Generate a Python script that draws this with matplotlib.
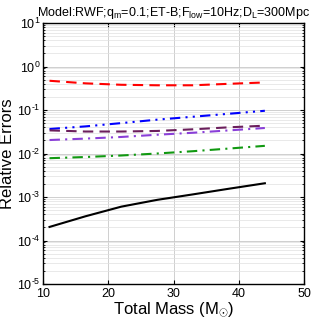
import numpy as np
import matplotlib
matplotlib.use("Agg")
import matplotlib.pyplot as plt
from matplotlib.ticker import LogLocator, NullFormatter, FuncFormatter

plt.rcParams['font.family'] = ['Liberation Sans', 'DejaVu Sans']
plt.rcParams['mathtext.fontset'] = 'custom'
plt.rcParams['mathtext.rm'] = 'Liberation Sans'
plt.rcParams['mathtext.it'] = 'Liberation Sans'

mass = [11, 16.5, 22, 27.5, 33, 38.5, 44]

err_red = [0.47, 0.41, 0.38, 0.37, 0.37, 0.40, 0.43]
err_blue = [0.0366, 0.042, 0.050, 0.060, 0.070, 0.082, 0.096]
err_plum = [0.034, 0.032, 0.032, 0.033, 0.036, 0.040, 0.0436]
err_violet = [0.0204, 0.022, 0.024, 0.027, 0.030, 0.034, 0.0386]
err_green = [0.0078, 0.0083, 0.0090, 0.0100, 0.0113, 0.0130, 0.015]
err_black = [2.05e-4, 3.6e-4, 6.0e-4, 8.6e-4, 1.15e-3, 1.55e-3, 2.07e-3]

fig = plt.figure(figsize=(3.16, 3.21), dpi=100)
ax = fig.add_axes([43/316, 1 - 284/321, 261/316, 261/321])

lw = 1.5
ax.plot(mass, err_red, color='#ff0000', lw=lw, dashes=(5, 3))
ax.plot(mass, err_blue, color='#0000ff', lw=lw, dashes=(5, 2.5, 1, 2.5, 1, 2.5))
ax.plot(mass, err_plum, color='#6b1f5c', lw=lw, dashes=(5, 3))
ax.plot(mass, err_violet, color='#8a3fd8', lw=lw, dashes=(5, 2.5, 1, 2.5))
ax.plot(mass, err_green, color='#119911', lw=lw, dashes=(5, 2.5, 1, 2.5))
ax.plot(mass, err_black, color='black', lw=lw)


def pow_label(v, pos):
    e = int(round(np.log10(v)))
    s = r'\text{-}%d' % abs(e) if e < 0 else '%d' % e
    return r'$10^{%s}$' % s


ax.set_yscale('log')
ax.set_xlim(10, 50)
ax.set_ylim(1e-5, 1e1)
ax.set_xticks([10, 20, 30, 40, 50])
ax.yaxis.set_major_locator(LogLocator(base=10, numticks=10))
ax.yaxis.set_major_formatter(FuncFormatter(pow_label))
ax.yaxis.set_minor_locator(LogLocator(base=10, subs=np.arange(2, 10), numticks=100))
ax.yaxis.set_minor_formatter(NullFormatter())

ax.grid(True, which='major', color='#c8c8c8', lw=0.6)
ax.grid(True, which='minor', axis='y', color='#e0e0e0', lw=0.5)
ax.tick_params(which='both', direction='in', labelsize=9, top=True, right=True, length=3, pad=2)
ax.tick_params(axis='x', pad=3)
ax.tick_params(which='minor', length=1.5)
for s in ax.spines.values():
    s.set_linewidth(1.0)

ax.set_xlabel(r'Total Mass (M$_{\odot}$)', fontsize=12, labelpad=0)
ax.set_ylabel('Relative Errors', fontsize=12, labelpad=1)
ax.set_title(r'Model:RWF;q$_{\rm m}$=0.1;ET-B;F$_{\rm low}$=10Hz;D$_{\rm L}$=300Mpc',
             fontsize=9, pad=5)

fig.savefig('out.png', dpi=100)
